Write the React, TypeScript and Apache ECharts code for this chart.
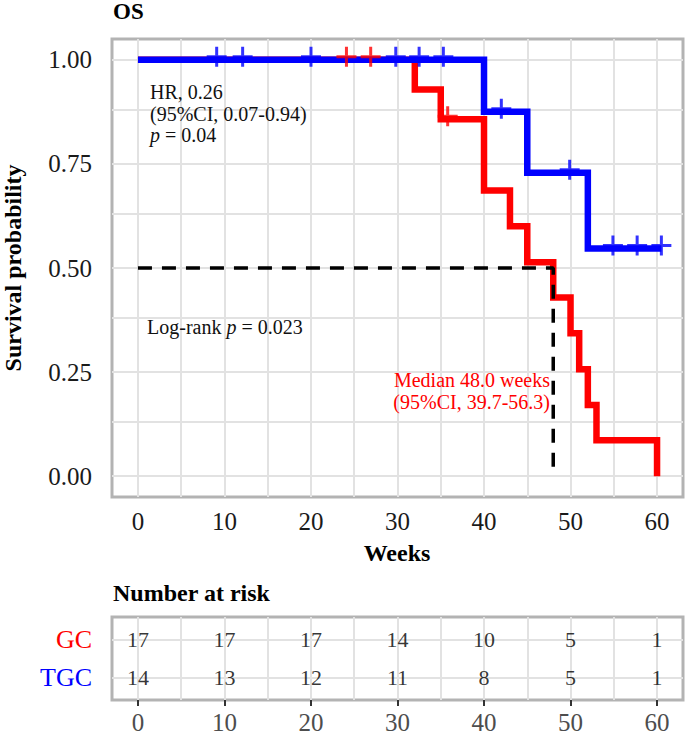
import React, { useEffect, useRef } from "react";
import * as echarts from "echarts";

// ---- data ----
const xTicks = [0, 10, 20, 30, 40, 50, 60];
const xGridLines = [0, 5, 10, 15, 20, 25, 30, 35, 40, 45, 50, 55, 60];
const yTicks = [0, 0.25, 0.5, 0.75, 1];
const yGridLines = [0, 0.125, 0.25, 0.375, 0.5, 0.625, 0.75, 0.875, 1];

// Kaplan-Meier step points [week, survival]
const gcCurve = [
  [0, 1], [32, 0.929], [35, 0.857], [40, 0.686], [43, 0.6], [45, 0.514],
  [48, 0.429], [50, 0.343], [51, 0.257], [52, 0.171], [53, 0.086], [60, 0],
];
const tgcCurve = [
  [0, 1], [40, 0.875], [45, 0.729], [52, 0.547], [60.5, 0.547],
];
const gcCensor = [[24.1, 1], [26.9, 1], [35.8, 0.857]];
const tgcCensor = [
  [9.1, 1], [12.1, 1], [20, 1], [29.8, 1], [32.5, 1], [35.3, 1],
  [42, 0.875], [49.9, 0.729], [54.9, 0.547], [57.7, 0.547], [60.5, 0.547],
];
const medianWeeks = 48;

const riskTimes = [0, 10, 20, 30, 40, 50, 60];
const gcRisk = [17, 17, 17, 14, 10, 5, 1];
const tgcRisk = [14, 13, 12, 11, 8, 5, 1];
const riskGroups = ["TGC", "GC"]; // y = 1, 2

const RED = "#ff0000";
const BLUE = "#0000ff";
const FONT = "Liberation Serif";
const PLUS =
  "path://M8.5,0 h3 v8.5 h8.5 v3 h-8.5 v8.5 h-3 v-8.5 h-8.5 v-3 h8.5 z";

export default function App() {
  const ref = useRef<HTMLDivElement>(null);
  useEffect(() => {
    document.body.style.margin = "0";
    const chart = echarts.init(ref.current!, undefined, { renderer: "svg" });
    const gridLineStyle = { color: "#e2e2e2", width: 2, type: "solid" as const };
    const textZ = { z: 20 };
    const riskLabel = {
      show: true, position: "inside", formatter: (p: any) => String(p.value[2]),
      color: "#000", fontSize: 22, fontFamily: FONT, textBorderWidth: 0,
    };
    const option: any = {
      animation: false,
      backgroundColor: "#ffffff",
      textStyle: { fontFamily: FONT },
      grid: [
        { left: 112, top: 39, width: 571, height: 458, show: true, borderColor: "#b3b3b3", borderWidth: 3, backgroundColor: "#fff", z: 0 },
        { left: 112, top: 617, width: 571, height: 83, show: true, borderColor: "#b3b3b3", borderWidth: 3, backgroundColor: "#fff", z: 0 },
      ],
      xAxis: [
        {
          type: "value", gridIndex: 0, min: -3, max: 63,
          axisLine: { show: false },
          splitLine: { show: false },
          axisTick: { show: true, customValues: xTicks, length: 6, lineStyle: { color: "#333", width: 2 } },
          axisLabel: { customValues: xTicks, margin: 12, fontSize: 25, color: "#1a1a1a", fontFamily: FONT },
        },
        {
          type: "value", gridIndex: 1, min: -3, max: 63,
          axisLine: { show: false },
          splitLine: { show: false },
          axisTick: { show: true, customValues: xTicks, length: 6, lineStyle: { color: "#333", width: 2 } },
          axisLabel: { customValues: xTicks, margin: 10, fontSize: 25, color: "#4d4d4d", fontFamily: FONT },
        },
      ],
      yAxis: [
        {
          type: "value", gridIndex: 0, min: -0.05, max: 1.05,
          axisLine: { show: false },
          splitLine: { show: false },
          axisTick: { show: true, customValues: yTicks, length: 6, lineStyle: { color: "#333", width: 2 } },
          axisLabel: {
            customValues: yTicks, margin: 20, fontSize: 25, color: "#1a1a1a", fontFamily: FONT,
            formatter: (v: number) => v.toFixed(2),
          },
        },
        {
          type: "value", gridIndex: 1, min: 0.4, max: 2.6,
          axisLine: { show: false },
          splitLine: { show: false },
          axisTick: { show: true, customValues: [1, 2], length: 6, lineStyle: { color: "#333", width: 2 } },
          axisLabel: {
            customValues: [1, 2], margin: 20, fontSize: 26, fontFamily: FONT,
            formatter: (v: number) => riskGroups[Math.round(v) - 1],
            color: (v: any) => (Math.round(Number(v)) === 2 ? RED : BLUE),
          },
        },
      ],
      graphic: [
        { type: "text", ...textZ, x: 113, y: 11, style: { text: "OS", font: `bold 23px ${FONT}`, fill: "#000", textAlign: "left", textVerticalAlign: "middle" } },
        { type: "text", ...textZ, x: 13, y: 268, rotation: Math.PI / 2, style: { text: "Survival probability", font: `bold 24px ${FONT}`, fill: "#000", textAlign: "center", textVerticalAlign: "middle" } },
        { type: "text", ...textZ, x: 397, y: 553, style: { text: "Weeks", font: `bold 24px ${FONT}`, fill: "#000", textAlign: "center", textVerticalAlign: "middle" } },
        { type: "text", ...textZ, x: 113, y: 593, style: { text: "Number at risk", font: `bold 24px ${FONT}`, fill: "#000", textAlign: "left", textVerticalAlign: "middle" } },
        { type: "text", ...textZ, x: 150, y: 92, style: { text: "HR, 0.26", font: `20px ${FONT}`, fill: "#111", textAlign: "left", textVerticalAlign: "middle" } },
        { type: "text", ...textZ, x: 150, y: 113.5, style: { text: "(95%CI, 0.07-0.94)", font: `20px ${FONT}`, fill: "#111", textAlign: "left", textVerticalAlign: "middle" } },
        {
          type: "text", ...textZ, x: 150, y: 135,
          style: {
            text: "{i|p} = 0.04", font: `20px ${FONT}`, fill: "#111", textAlign: "left", textVerticalAlign: "middle",
            rich: { i: { fontStyle: "italic", fontFamily: FONT, fontSize: 20, fill: "#111" } },
          },
        },
        {
          type: "text", ...textZ, x: 147, y: 327,
          style: {
            text: "Log-rank {i|p} = 0.023", font: `20px ${FONT}`, fill: "#111", textAlign: "left", textVerticalAlign: "middle",
            rich: { i: { fontStyle: "italic", fontFamily: FONT, fontSize: 20, fill: "#111" } },
          },
        },
        { type: "text", ...textZ, x: 550, y: 380, style: { text: "Median 48.0 weeks", font: `20px ${FONT}`, fill: RED, textAlign: "right", textVerticalAlign: "middle" } },
        { type: "text", ...textZ, x: 550, y: 402, style: { text: "(95%CI, 39.7-56.3)", font: `20px ${FONT}`, fill: RED, textAlign: "right", textVerticalAlign: "middle" } },
      ],
      series: [
        {
          type: "line", xAxisIndex: 0, yAxisIndex: 0, data: [], silent: true, z: 1,
          markLine: {
            z: 1, silent: true, symbol: "none", label: { show: false }, lineStyle: gridLineStyle, animation: false,
            emphasis: { disabled: true },
            data: [
              ...xGridLines.map((v) => ({ xAxis: v })),
              ...yGridLines.map((v) => ({ yAxis: v })),
            ],
          },
        },
        {
          type: "line", xAxisIndex: 1, yAxisIndex: 1, data: [], silent: true, z: 1,
          markLine: {
            z: 1, silent: true, symbol: "none", label: { show: false }, lineStyle: gridLineStyle, animation: false,
            emphasis: { disabled: true },
            data: [
              ...xGridLines.map((v) => ({ xAxis: v })),
              ...[1, 2].map((v) => ({ yAxis: v })),
            ],
          },
        },
        {
          name: "GC", type: "line", step: "end", data: gcCurve, showSymbol: false, z: 3,
          lineStyle: { color: RED, width: 6.5, join: "miter", cap: "butt" }, itemStyle: { color: RED },
        },
        {
          name: "TGC", type: "line", step: "end", data: tgcCurve, showSymbol: false, z: 4,
          lineStyle: { color: BLUE, width: 6.5, join: "miter", cap: "butt" }, itemStyle: { color: BLUE },
        },
        {
          type: "scatter", data: gcCensor, symbol: PLUS, symbolSize: [20, 20], symbolOffset: [0, -3], z: 5,
          itemStyle: { color: RED },
        },
        {
          type: "scatter", data: tgcCensor, symbol: PLUS, symbolSize: [20, 20], symbolOffset: [0, -3], z: 6,
          itemStyle: { color: BLUE },
        },
        {
          type: "line", data: [[0, 0.5], [medianWeeks, 0.5], [medianWeeks, 0]], showSymbol: false, z: 7,
          lineStyle: { color: "#000", width: 3.5, type: [14, 10] },
        },
        {
          type: "scatter", xAxisIndex: 1, yAxisIndex: 1, symbolSize: 1, z: 5,
          itemStyle: { color: "transparent" },
          data: riskTimes.map((t, i) => [t, 2, gcRisk[i]]),
          label: riskLabel,
        },
        {
          type: "scatter", xAxisIndex: 1, yAxisIndex: 1, symbolSize: 1, z: 5,
          itemStyle: { color: "transparent" },
          data: riskTimes.map((t, i) => [t, 1, tgcRisk[i]]),
          label: riskLabel,
        },
      ],
    };
    chart.setOption(option);
    return () => chart.dispose();
  }, []);
  return <div ref={ref} style={{ width: 685, height: 740 }} />;
}
